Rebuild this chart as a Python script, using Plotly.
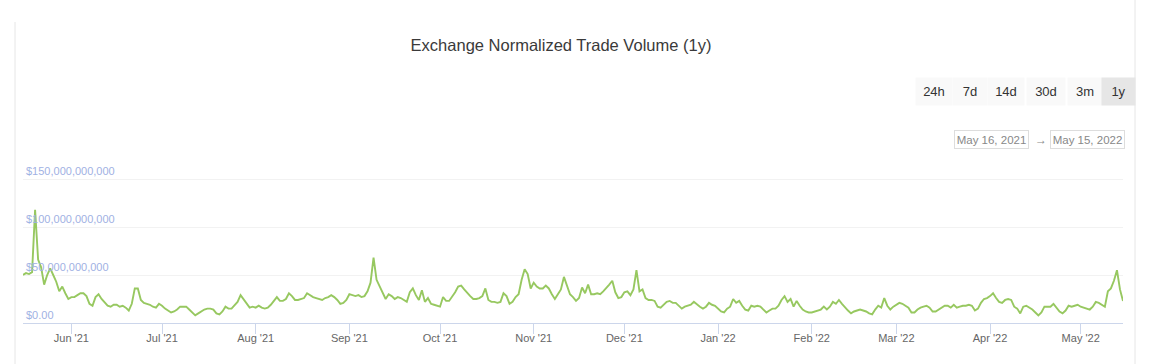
import plotly.graph_objects as go
import pandas as pd

# ---------------- data ----------------
start_date = "2021-05-16"
volume_bn = [
    50, 52, 51, 53, 118, 66, 58, 40, 50, 57,
    50, 43, 33, 38, 31, 25, 27, 27, 29, 31,
    31, 28, 20, 18, 27, 30, 25, 22, 18, 17,
    19, 19, 17, 18, 16, 13, 20, 36, 36, 24,
    21, 20, 19, 17, 16, 20, 18, 15, 13, 11,
    12, 14, 17, 17, 17, 14, 11, 8, 10, 12,
    14, 15, 15, 14, 10, 9, 12, 17, 15, 15,
    18, 22, 29, 25, 20, 16, 17, 16, 18, 16,
    15, 16, 19, 23, 27, 23, 23, 25, 31, 28,
    24, 24, 25, 26, 31, 29, 27, 26, 25, 24,
    26, 27, 29, 27, 24, 20, 21, 24, 30, 29,
    28, 29, 27, 28, 33, 42, 68, 45, 38, 32,
    25,
    30, 28, 25, 27, 26, 24, 22, 32, 36, 29,
    24, 34, 22, 26, 20, 19, 18, 17, 27, 23,
    23, 27, 32, 38, 39, 35, 31, 28, 25, 25,
    26, 28, 36, 24, 22, 22, 21, 22, 31, 28,
    20, 22, 27, 30, 45, 56, 51, 36, 42, 38,
    36, 36, 39, 36, 30, 25, 30, 35, 48, 38,
    30, 27,
    23, 26, 37, 31, 40, 30, 30, 31, 30, 33,
    36, 40, 44, 32, 26, 27, 32, 33, 29, 35,
    55, 33, 35, 26, 24, 24, 23, 17, 16, 19,
    22, 23, 21, 21, 18, 15, 17, 18, 19, 22,
    19, 17, 15, 17, 21, 19, 18, 15, 12, 11,
    15, 17, 25, 21, 23, 18, 14, 13, 18, 17,
    18,
    17, 14, 11, 13, 15, 15, 18, 24, 28, 22,
    25, 17, 23, 18, 14, 12, 11, 11, 12, 13,
    14, 17, 14, 17, 22, 20, 24, 20, 16, 13,
    10, 12, 13, 14, 13, 12, 10, 9, 14, 18,
    16, 26, 18, 14, 17, 19, 21, 20, 18, 16,
    11, 11, 14, 16, 17, 18, 16, 12, 12, 14,
    16, 18,
    18, 16, 19, 16, 17, 18, 18, 19, 18, 13,
    15, 21, 25, 26, 28, 31, 26, 22, 21, 24,
    25, 24, 17, 15, 10, 17, 18, 16, 14, 11,
    8, 11, 17, 17, 17, 20, 16, 12, 10, 13,
    18, 17, 18, 19, 17, 16, 15, 14, 17, 22,
    21, 19, 17, 33, 36, 44, 55, 35, 23,
]

month_ticks = ["2021-06-01", "2021-07-01", "2021-08-01", "2021-09-01", "2021-10-01",
               "2021-11-01", "2021-12-01", "2022-01-01", "2022-02-01", "2022-03-01",
               "2022-04-01", "2022-05-01"]
month_labels = ["Jun '21", "Jul '21", "Aug '21", "Sep '21", "Oct '21", "Nov '21",
                "Dec '21", "Jan '22", "Feb '22", "Mar '22", "Apr '22", "May '22"]

y_tickvals = [0, 50e9, 100e9, 150e9]
y_ticktext = ["$0.00", "$50,000,000,000", "$100,000,000,000", "$150,000,000,000"]

range_buttons = ["24h", "7d", "14d", "30d", "3m", "1y"]
active_button = "1y"
date_from = "May 16, 2021"
date_to = "May 15, 2022"

# ---------------- figure ----------------
dates = pd.date_range(start_date, periods=len(volume_bn), freq="D")
volume_usd = [v * 1e9 for v in volume_bn]

W, H = 1149, 364
ML, MR, MT, MB = 23, 26, 163, 41
PW, PH = W - ML - MR, H - MT - MB
YMAX = 150e9 * PH / 144.0


def px_x(px):
    return (px - ML) / PW


def px_y(py):
    return (H - MB - py) / PH


FONT = "Liberation Sans, Arial, Helvetica, sans-serif"

fig = go.Figure()
# base subplot (grid + x axis)
fig.add_trace(go.Scatter(x=[], y=[], mode="lines", showlegend=False,
                         hoverinfo="skip", xaxis="x", yaxis="y"))
# data line, drawn against the overlaying y axis that carries the labels
fig.add_trace(go.Scatter(
    x=dates, y=volume_usd, mode="lines",
    line=dict(color="#97c860", width=1.9),
    showlegend=False, hoverinfo="x+y", xaxis="x", yaxis="y2",
))

annotations = []
btn_geom = {"24h": (934, 36), "7d": (970, 34), "14d": (1006, 36),
            "30d": (1046, 38), "3m": (1085, 34), "1y": (1118.5, 33)}
for b in range_buttons:
    cx, bw = btn_geom[b]
    annotations.append(dict(
        text=b, xref="paper", yref="paper", x=px_x(cx), y=px_y(91.7),
        xanchor="center", yanchor="middle", showarrow=False,
        width=bw, height=27, borderpad=0,
        bgcolor="#e6e6e6" if b == active_button else "#f9f9f9",
        font=dict(family=FONT, size=13, color="#333333"),
    ))

for txt, cx in [(date_from, 991.5), (date_to, 1087.5)]:
    annotations.append(dict(
        text=txt, xref="paper", yref="paper", x=px_x(cx), y=px_y(139.5),
        xanchor="center", yanchor="middle", showarrow=False,
        width=71, height=15, borderpad=1, borderwidth=1,
        bordercolor="#dddddd", bgcolor="#ffffff",
        font=dict(family=FONT, size=11.5, color="#888888"),
    ))
annotations.append(dict(
    text="→", xref="paper", yref="paper", x=px_x(1041), y=px_y(140),
    xanchor="center", yanchor="middle", showarrow=False,
    font=dict(family=FONT, size=12, color="#888888"),
))

shapes = [
    dict(type="line", xref="paper", yref="paper",
         x0=px_x(15), x1=px_x(15), y0=px_y(22), y1=px_y(H + 2),
         line=dict(color="#e6e6e6", width=1)),
    dict(type="line", xref="paper", yref="paper",
         x0=px_x(1135), x1=px_x(1135), y0=px_y(0), y1=px_y(H + 2),
         line=dict(color="#e6e6e6", width=1)),
]

fig.update_layout(
    width=W, height=H,
    margin=dict(l=ML, r=MR, t=MT, b=MB, pad=0),
    paper_bgcolor="#ffffff", plot_bgcolor="#ffffff",
    font=dict(family=FONT),
    title=dict(
        text="Exchange Normalized Trade Volume (1y)",
        xref="container", yref="container",
        x=561 / W, y=1 - 45 / H, xanchor="center", yanchor="middle",
        font=dict(family=FONT, size=16.5, color="#3a3a3a"),
    ),
    xaxis=dict(
        type="date", range=[dates[0], dates[-1]], automargin=False,
        tickmode="array", tickvals=month_ticks, ticktext=month_labels,
        ticks="outside", ticklen=10, tickcolor="#ccd6eb", tickwidth=1,
        showline=True, linecolor="#ccd6eb", linewidth=1,
        showgrid=False, zeroline=False,
        tickfont=dict(family=FONT, size=11, color="#666666"),
        ticklabelstandoff=-5,
    ),
    yaxis=dict(
        range=[0, YMAX], tickmode="array", tickvals=y_tickvals, automargin=False,
        showticklabels=False, ticks="",
        showgrid=True, gridcolor="#f2f2f2", gridwidth=1, zeroline=False,
        showline=False, fixedrange=True,
    ),
    yaxis2=dict(
        overlaying="y", anchor="free", position=0, side="right", automargin=False,
        range=[0, YMAX], tickmode="array", tickvals=y_tickvals, ticktext=y_ticktext,
        ticklabelposition="outside top", ticks="", ticklabelstandoff=2,
        showgrid=False, zeroline=False, showline=False, fixedrange=True,
        tickfont=dict(family=FONT, size=11, color="#9fb1e3"),
    ),
    annotations=annotations, shapes=shapes,
)

fig.write_html("out.html")
